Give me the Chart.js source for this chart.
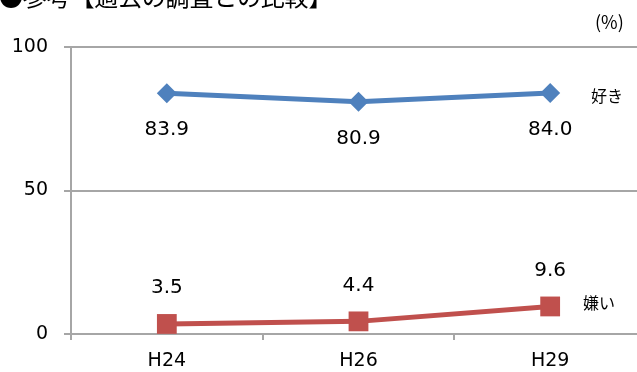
<!DOCTYPE html>
<html>
<head>
<meta charset="utf-8">
<script src="https://cdn.jsdelivr.net/npm/chart.js@4/dist/chart.umd.min.js"></script>
<style>
  html, body { margin: 0; padding: 0; background: #fff; overflow: hidden; }
  #wrap { width: 660px; height: 372px; }
</style>
</head>
<body>
<div id="wrap"><canvas id="linechart" width="660" height="372"></canvas></div>
<script>
// data
const years = ["H24", "H26", "H29"];
const likeValues = [83.9, 80.9, 84.0];
const dislikeValues = [3.5, 4.4, 9.6];
const seriesNames = ["好き", "嫌い"];
const yTicks = [0, 50, 100];
const titleText = "●参考【過去の調査との比較】";

const JP = "'Noto Sans CJK JP', 'Noto Sans', sans-serif";
const NUM = "'DejaVu Sans', 'Noto Sans CJK JP', sans-serif";

// draws the title, unit, value labels and series names
const textPlugin = {
  id: "texts",
  afterDatasetsDraw(chart) {
    const ctx = chart.ctx;
    ctx.save();
    ctx.fillStyle = "#000";
    ctx.textBaseline = "middle";

    // title: full-width characters on a fixed pitch
    ctx.font = "24px " + JP;
    ctx.textAlign = "center";
    Array.from(titleText).forEach((ch, i) => {
      ctx.fillText(ch, 11 + i * 23.8, -3);
    });

    ctx.textAlign = "left";
    ctx.font = "18px " + JP;
    ctx.fillText("(%)", 595, 22);

    ctx.font = "20px " + NUM;
    ctx.textAlign = "center";
    chart.getDatasetMeta(0).data.forEach((pt, i) => {
      ctx.fillText(likeValues[i].toFixed(1), pt.x, pt.y + 37);
    });
    chart.getDatasetMeta(1).data.forEach((pt, i) => {
      ctx.fillText(dislikeValues[i].toFixed(1), pt.x, pt.y - 36);
    });

    ctx.font = "16px " + JP;
    ctx.textAlign = "left";
    const last0 = chart.getDatasetMeta(0).data[2];
    const last1 = chart.getDatasetMeta(1).data[2];
    ctx.fillText(seriesNames[0], 591, last0.y + 3);
    ctx.fillText(seriesNames[1], 583, last1.y - 4);
    ctx.restore();
  }
};

const config = {
  type: "line",
  data: {
    labels: years,
    datasets: [{
        label: seriesNames[0],
        data: likeValues,
        borderColor: "#4F81BD",
        backgroundColor: "#4F81BD",
        borderWidth: 5,
        pointStyle: "rectRot",
        pointRadius: 10,
        pointHoverRadius: 10,
        pointBorderWidth: 0,
        tension: 0,
      },
      {
        label: seriesNames[1],
        data: dislikeValues,
        borderColor: "#C0504D",
        backgroundColor: "#C0504D",
        borderWidth: 5,
        pointStyle: "rect",
        pointRadius: 14,
        pointHoverRadius: 14,
        pointBorderWidth: 0,
        tension: 0,
      },
    ],
  },
  options: {
    responsive: false,
    animation: false,
    layout: {
      padding: { top: 47, right: 8, left: 0, bottom: 0 }
    },
    plugins: {
      legend: { display: false },
      tooltip: { enabled: false },
    },
    scales: {
      x: {
        offset: true,
        grid: {
          offset: true,
          drawOnChartArea: false,
          drawTicks: true,
          tickLength: 6,
          color: "#A6A6A6",
          lineWidth: 2,
        },
        border: { display: true, color: "#A6A6A6", width: 2 },
        ticks: {
          color: "#000",
          font: { family: NUM, size: 19 },
          padding: 10,
        },
        afterFit(scale) { scale.height = 38; },
      },
      y: {
        min: 0,
        max: 100,
        afterBuildTicks(scale) {
          scale.ticks = yTicks.map(v => ({ value: v }));
        },
        grid: {
          color: "#A6A6A6",
          lineWidth: 2,
          tickLength: 7,
        },
        border: { display: true, color: "#A6A6A6", width: 2 },
        ticks: {
          color: "#000",
          font: { family: NUM, size: 19 },
          padding: 16,
        },
        afterFit(scale) { scale.width = 71; },
      },
    },
  },
  plugins: [textPlugin],
};

const ctx = document.getElementById("linechart");
const myChart = new Chart(ctx, config);
</script>
</body>
</html>
